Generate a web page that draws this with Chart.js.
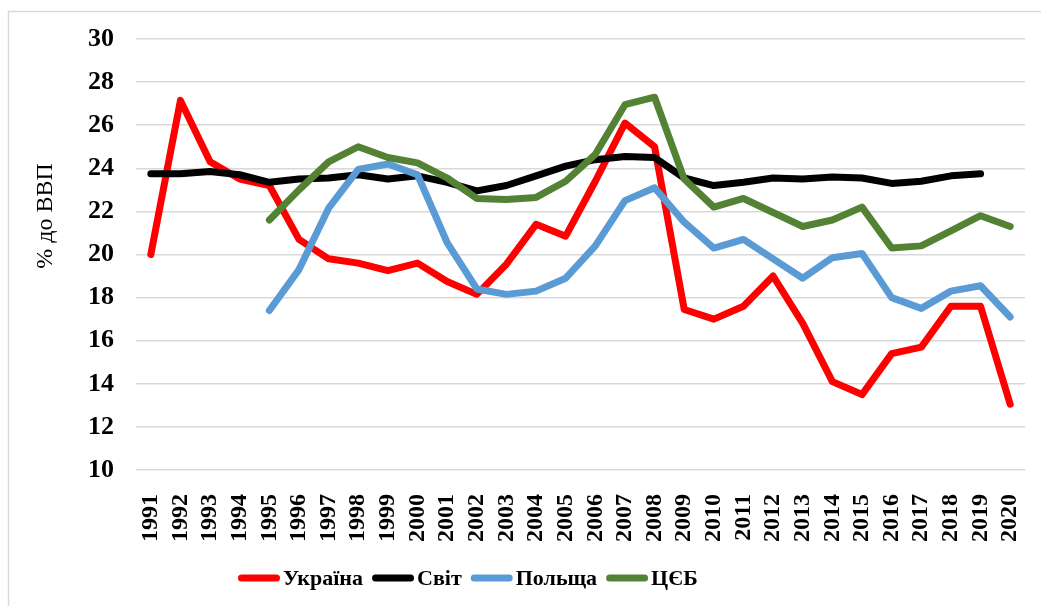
<!DOCTYPE html>
<html>
<head>
<meta charset="utf-8">
<script src="https://cdn.jsdelivr.net/npm/chart.js@4/dist/chart.umd.min.js"></script>
<style>
  html, body { margin: 0; padding: 0; background: #fff; }
  #wrap { width: 1041px; height: 606px; }
</style>
</head>
<body>
<div id="wrap"><canvas id="gdpChart" width="1041" height="606"></canvas></div>
<script>
// роки
const years = ['1991','1992','1993','1994','1995','1996','1997','1998','1999','2000',
  '2001','2002','2003','2004','2005','2006','2007','2008','2009','2010',
  '2011','2012','2013','2014','2015','2016','2017','2018','2019','2020'];

const ukraine = [20.0, 27.15, 24.3, 23.5, 23.2, 20.7, 19.8, 19.6, 19.25, 19.6,
  18.75, 18.15, 19.55, 21.4, 20.85, 23.4, 26.1, 25.0, 17.45, 17.0,
  17.6, 19.0, 16.8, 14.1, 13.5, 15.4, 15.7, 17.6, 17.6, 13.05];

const world = [23.75, 23.75, 23.85, 23.7, 23.35, 23.5, 23.55, 23.7, 23.5, 23.65,
  23.35, 22.95, 23.2, 23.65, 24.1, 24.4, 24.55, 24.5, 23.55, 23.2,
  23.35, 23.55, 23.5, 23.6, 23.55, 23.3, 23.4, 23.65, 23.75, null];

const poland = [null, null, null, null, 17.4, 19.3, 22.15, 23.95, 24.2, 23.7,
  20.55, 18.4, 18.15, 18.3, 18.9, 20.4, 22.5, 23.1, 21.5, 20.3,
  20.7, 19.8, 18.9, 19.85, 20.05, 18.0, 17.5, 18.3, 18.55, 17.1];

const ceb = [null, null, null, null, 21.6, 23.0, 24.3, 25.0, 24.5, 24.25,
  23.55, 22.6, 22.55, 22.65, 23.4, 24.65, 26.95, 27.3, 23.5, 22.2,
  22.6, 21.95, 21.3, 21.6, 22.2, 20.3, 20.4, 21.1, 21.8, 21.3];

const yMin = 10;
const yMax = 30;
const yStep = 2;
const yTitle = '% до ВВП';

const FONT = '"Liberation Serif", "Times New Roman", serif';

function makeLine(label, data, color, order) {
    return {
        label: label,
        data: data,
        borderColor: color,
        backgroundColor: color,
        borderWidth: 7,
        borderCapStyle: 'round',
        borderJoinStyle: 'round',
        pointRadius: 0,
        pointHoverRadius: 0,
        tension: 0,
        spanGaps: false,
        fill: false,
        order: order
    };
}

// рамка, підпис осі Y і легенда (як в Excel)
const framePlugin = {
    id: 'frame',
    beforeDraw(chart) {
        const ctx = chart.ctx;
        ctx.save();
        ctx.fillStyle = '#fff';
        ctx.fillRect(0, 0, chart.width, chart.height);
        ctx.strokeStyle = '#d9d9d9';
        ctx.lineWidth = 1.5;
        ctx.beginPath();
        ctx.moveTo(8.5, chart.height);
        ctx.lineTo(8.5, 11.5);
        ctx.lineTo(chart.width, 11.5);
        ctx.stroke();
        ctx.restore();
    },
    afterDraw(chart) {
        const ctx = chart.ctx;
        ctx.save();
        ctx.translate(46, 216);
        ctx.rotate(-Math.PI / 2);
        ctx.font = '24px ' + FONT;
        ctx.fillStyle = '#000';
        ctx.textAlign = 'center';
        ctx.textBaseline = 'middle';
        ctx.fillText(yTitle, 0, 0);
        ctx.restore();

        // легенда
        ctx.save();
        ctx.font = 'bold 22px ' + FONT;
        ctx.textBaseline = 'middle';
        ctx.textAlign = 'left';
        const y = 578;
        let x = 238;
        chart.data.datasets.forEach((ds) => {
            ctx.strokeStyle = ds.borderColor;
            ctx.lineWidth = ds.borderWidth;
            ctx.lineCap = 'round';
            ctx.beginPath();
            ctx.moveTo(x + 3.5, y);
            ctx.lineTo(x + 38.5, y);
            ctx.stroke();
            ctx.fillStyle = '#000';
            ctx.fillText(ds.label, x + 45, y + 1);
            x += 45 + ctx.measureText(ds.label).width + 9;
        });
        ctx.restore();
    }
};

new Chart(document.getElementById('gdpChart').getContext('2d'), {
    type: 'line',
    data: {
        labels: years,
        datasets: [
            makeLine('Україна', ukraine, '#ff0000', 4),
            makeLine('Світ', world, '#000000', 3),
            makeLine('Польща', poland, '#5b9bd5', 2),
            makeLine('ЦЄБ', ceb, '#548235', 1)
        ]
    },
    options: {
        responsive: false,
        animation: false,
        layout: {
            autoPadding: false,
            padding: { top: 39, right: 16, bottom: 48, left: 0 }
        },
        plugins: {
            legend: { display: false },
            tooltip: { enabled: false }
        },
        scales: {
            x: {
                offset: true,
                grid: { display: false },
                border: { display: false },
                ticks: {
                    minRotation: 90,
                    maxRotation: 90,
                    autoSkip: false,
                    padding: 16,
                    color: '#000',
                    font: { family: FONT, size: 24, weight: 'bold' }
                },
                afterFit: (scale) => {
                    scale.height = 88;
                    scale.paddingLeft = 0;
                    scale.paddingRight = 0;
                }
            },
            y: {
                min: yMin,
                max: yMax,
                ticks: {
                    stepSize: yStep,
                    padding: 22,
                    color: '#000',
                    font: { family: FONT, size: 26, weight: 'bold' }
                },
                grid: {
                    color: '#d9d9d9',
                    lineWidth: 1.5,
                    drawTicks: false
                },
                border: { display: false },
                afterFit: (scale) => {
                    scale.width = 136;
                    scale.paddingTop = 0;
                    scale.paddingBottom = 0;
                }
            }
        }
    },
    plugins: [framePlugin]
});
</script>
</body>
</html>
